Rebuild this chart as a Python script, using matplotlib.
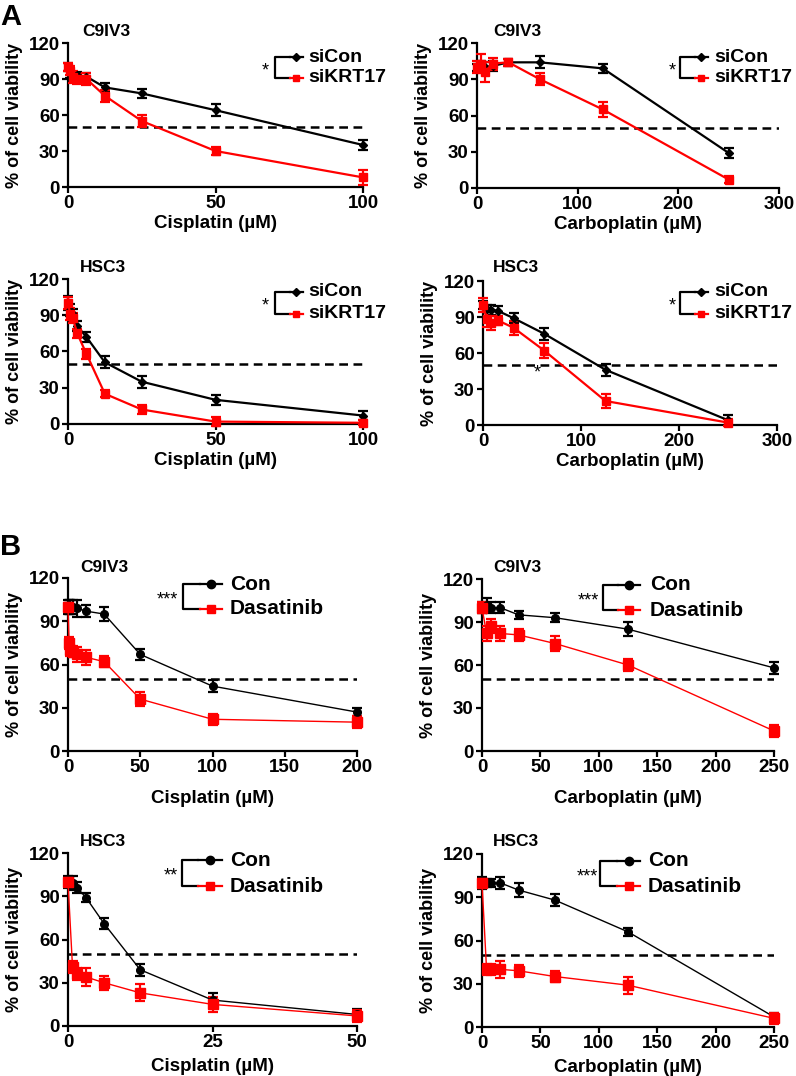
import matplotlib
matplotlib.use("Agg")
import matplotlib.pyplot as plt
from matplotlib.lines import Line2D
import numpy as np

plt.rcParams['font.family'] = ['Liberation Sans', 'DejaVu Sans']
plt.rcParams['font.weight'] = 'bold'

W, H = 796, 1076

# ---------------- data ----------------
cis_A = [0, 0.78, 1.56, 3.125, 6.25, 12.5, 25, 50, 100]
carbo_A = [0, 3.9, 7.8, 15.6, 31.25, 62.5, 125, 250]

# A, C9IV3 cisplatin
a1_con = [100, 95, 92, 93, 92, 83, 78, 64, 35]
a1_con_err = [3, 4, 3, 3, 3, 4, 4, 5, 4]
a1_kd = [100, 97, 92, 90, 90, 76, 55, 30, 8]
a1_kd_err = [3, 4, 5, 4, 5, 5, 5, 3, 6]

# A, C9IV3 carboplatin
a2_con = [100, 101, 100, 101, 104, 104, 99, 29]
a2_con_err = [3, 4, 4, 4, 3, 5, 4, 4]
a2_kd = [100, 103, 96, 103, 104, 90, 65, 7]
a2_kd_err = [5, 8, 8, 5, 3, 5, 6, 3]

# A, HSC3 cisplatin
a3_con = [100, 94, 91, 81, 72, 51, 35, 20, 7]
a3_con_err = [6, 5, 4, 4, 4, 5, 5, 4, 4]
a3_kd = [100, 91, 88, 75, 58, 25, 12, 2, 1]
a3_kd_err = [5, 5, 4, 4, 4, 3, 4, 4, 2]

# A, HSC3 carboplatin
a4_con = [100, 97, 96, 95, 89, 76, 46, 4]
a4_con_err = [3, 3, 4, 4, 4, 5, 5, 4]
a4_kd = [100, 88, 85, 87, 81, 62, 20, 2]
a4_kd_err = [6, 6, 6, 4, 6, 6, 6, 3]

cis_B1 = [0, 0.78, 1.56, 3.125, 6.25, 12.5, 25, 50, 100, 200]
carbo_B = [0, 3.9, 7.8, 15.6, 31.25, 62.5, 125, 250]
cis_B3 = [0, 0.78, 1.56, 3.125, 6.25, 12.5, 25, 50]

# B, C9IV3 cisplatin
b1_con = [100, 100, 100, 100, 99, 97, 95, 67, 45, 27]
b1_con_err = [5, 5, 5, 5, 6, 4, 5, 4, 4, 3]
b1_das = [100, 75, 70, 69, 67, 65, 62, 36, 22, 20]
b1_das_err = [3, 4, 4, 4, 5, 5, 4, 5, 4, 4]

# B, C9IV3 carboplatin
b2_con = [100, 102, 100, 100, 95, 93, 85, 58]
b2_con_err = [4, 5, 4, 4, 3, 3, 5, 4]
b2_das = [100, 82, 87, 82, 81, 75, 60, 14]
b2_das_err = [4, 5, 5, 5, 4, 5, 4, 4]

# B, HSC3 cisplatin
b3_con = [100, 99, 96, 89, 71, 39, 18, 8]
b3_con_err = [4, 5, 4, 3, 4, 4, 5, 4]
b3_das = [100, 41, 36, 34, 30, 23, 15, 7]
b3_das_err = [3, 4, 4, 6, 5, 6, 5, 4]

# B, HSC3 carboplatin
b4_con = [100, 100, 100, 100, 95, 88, 66, 7]
b4_con_err = [4, 3, 3, 4, 5, 4, 3, 3]
b4_das = [100, 40, 40, 40, 39, 35, 29, 6]
b4_das_err = [3, 4, 4, 6, 4, 4, 6, 4]

yticks = [0, 30, 60, 90, 120]

fig = plt.figure(figsize=(W / 100, H / 100), dpi=100)


def box(x0, x1, yt, yb):
    return [x0 / W, 1 - yb / H, (x1 - x0) / W, (yb - yt) / H]


def fx(px):
    return px / W


def fy(py):
    return 1 - py / H


def make_ax(b, xmax, xt, title, xlabel, xlabelpad, title_px):
    ax = fig.add_axes(box(*b))
    ax.set_xlim(0, xmax)
    ax.set_ylim(0, 120)
    ax.set_xticks(xt)
    ax.set_yticks(yticks)
    for s in ['top', 'right']:
        ax.spines[s].set_visible(False)
    for s in ['left', 'bottom']:
        ax.spines[s].set_linewidth(1.6)
    ax.tick_params(direction='out', length=4.5, width=1.6, pad=1.5, labelsize=13.5)
    for lab in ax.get_xticklabels() + ax.get_yticklabels():
        lab.set_fontweight('bold')
    ax.set_ylabel('% of cell viability', fontsize=13, fontweight='bold', labelpad=4)
    ax.set_xlabel(xlabel, fontsize=13.5, fontweight='bold', labelpad=xlabelpad)
    ax.axhline(50, xmin=0, xmax=1, color='black', lw=1.8, dashes=(3.5, 2.2), zorder=1)
    fig.text(fx(title_px[0]), fy(title_px[1]), title, fontsize=12.5, fontweight='bold',
             ha='left', va='center')
    return ax


def series(ax, x, y, e, color, marker, ms, lw, elw=1.6):
    cont = ax.errorbar(x, y, yerr=e, color=color, marker=marker, ms=ms, lw=lw,
                       elinewidth=elw, capsize=3.5, capthick=elw,
                       mec=color, mfc=color, zorder=3)
    for art in cont.get_children():
        art.set_clip_on(False)
    return cont


def legend(bx, ytop, ybot, star, star_x, lx0, lx1, mx, tx, labels, markers, ms, lw, fs):
    # bracket
    fig.add_artist(Line2D([fx(lx0), fx(bx), fx(bx), fx(lx0)],
                          [fy(ytop), fy(ytop), fy(ybot), fy(ybot)],
                          color='black', lw=1.6))
    cols = ['black', 'red']
    for yy, c, m, lab in zip([ytop, ybot], cols, markers, labels):
        fig.add_artist(Line2D([fx(lx0), fx(lx1)], [fy(yy), fy(yy)], color=c, lw=lw))
        fig.add_artist(Line2D([fx(mx)], [fy(yy)], color=c, marker=m, ms=ms, mec=c, mfc=c))
        fig.text(fx(tx), fy(yy), lab, fontsize=fs, fontweight='bold', ha='left', va='center')
    fig.text(fx(star_x), fy((ytop + ybot) / 2 + 3), star, fontsize=13, fontweight='normal',
             ha='center', va='center')


# ---------------- Panel A ----------------
ax = make_ax((68, 363, 43, 187), 100, [0, 50, 100], 'C9IV3', 'Cisplatin (µM)', 2, (82, 31))
series(ax, cis_A, a1_con, a1_con_err, 'black', 'D', 4.5, 1.6)
series(ax, cis_A, a1_kd, a1_kd_err, 'red', 's', 6, 1.6)
legend(275, 57, 78, '*', 265, 290, 303, 296, 308, ['siCon', 'siKRT17'], ['D', 's'], 4.5, 1.6, 14)

ax = make_ax((477, 779, 43, 188), 300, [0, 100, 200, 300], 'C9IV3', 'Carboplatin (µM)', 2, (493, 31))
series(ax, carbo_A, a2_con, a2_con_err, 'black', 'D', 4.5, 1.6)
series(ax, carbo_A, a2_kd, a2_kd_err, 'red', 's', 6, 1.6)
legend(680, 57, 78, '*', 672, 695, 708, 701, 714, ['siCon', 'siKRT17'], ['D', 's'], 4.5, 1.6, 14)

ax = make_ax((68, 363, 279, 424), 100, [0, 50, 100], 'HSC3', 'Cisplatin (µM)', 2, (80, 267))
series(ax, cis_A, a3_con, a3_con_err, 'black', 'D', 4.5, 1.6)
series(ax, cis_A, a3_kd, a3_kd_err, 'red', 's', 6, 1.6)
legend(275, 292, 314, '*', 265, 290, 303, 296, 308, ['siCon', 'siKRT17'], ['D', 's'], 4.5, 1.6, 14)

ax = make_ax((483, 777, 281, 425), 300, [0, 100, 200, 300], 'HSC3', 'Carboplatin (µM)', 2, (493, 267))
series(ax, carbo_A, a4_con, a4_con_err, 'black', 'D', 4.5, 1.6)
series(ax, carbo_A, a4_kd, a4_kd_err, 'red', 's', 6, 1.6)
legend(680, 292, 314, '*', 672, 695, 708, 701, 714, ['siCon', 'siKRT17'], ['D', 's'], 4.5, 1.6, 14)
ax.text(55, 43, '*', fontsize=13, fontweight='normal', ha='center', va='center')

# ---------------- Panel B ----------------
ax = make_ax((68, 357, 578, 751), 200, [0, 50, 100, 150, 200], 'C9IV3', 'Cisplatin (µM)', 10, (80, 567))
series(ax, cis_B1, b1_con, b1_con_err, 'black', 'o', 5.5, 1.0)
series(ax, cis_B1, b1_das, b1_das_err, 'red', 's', 6.5, 1.0)
legend(183, 584, 609, '***', 167, 200, 222, 211, 230, ['Con', 'Dasatinib'], ['o', 's'], 6, 1.6, 15)

ax = make_ax((482, 774, 579, 751), 250, [0, 50, 100, 150, 200, 250], 'C9IV3', 'Carboplatin (µM)', 10, (493, 567))
series(ax, carbo_B, b2_con, b2_con_err, 'black', 'o', 5.5, 1.0)
series(ax, carbo_B, b2_das, b2_das_err, 'red', 's', 6.5, 1.0)
legend(603, 585, 610, '***', 588, 618, 640, 629, 650, ['Con', 'Dasatinib'], ['o', 's'], 6, 1.6, 15)

ax = make_ax((68, 357, 853, 1026), 50, [0, 25, 50], 'HSC3', 'Cisplatin (µM)', 5, (80, 842))
series(ax, cis_B3, b3_con, b3_con_err, 'black', 'o', 5.5, 1.0)
series(ax, cis_B3, b3_das, b3_das_err, 'red', 's', 6.5, 1.0)
legend(182, 860, 886, '**', 171, 198, 222, 210, 230, ['Con', 'Dasatinib'], ['o', 's'], 6, 1.6, 15)

ax = make_ax((482, 774, 854, 1027), 250, [0, 50, 100, 150, 200, 250], 'HSC3', 'Carboplatin (µM)', 5, (493, 842))
series(ax, carbo_B, b4_con, b4_con_err, 'black', 'o', 5.5, 1.0)
series(ax, carbo_B, b4_das, b4_das_err, 'red', 's', 6.5, 1.0)
legend(600, 861, 886, '***', 587, 617, 640, 629, 648, ['Con', 'Dasatinib'], ['o', 's'], 6, 1.6, 15)

# panel letters
fig.text(fx(0), fy(17), 'A', fontsize=21, fontweight='bold', ha='left', va='center')
fig.text(fx(0), fy(547), 'B', fontsize=21, fontweight='bold', ha='left', va='center')

fig.savefig('out.png', dpi=100)
